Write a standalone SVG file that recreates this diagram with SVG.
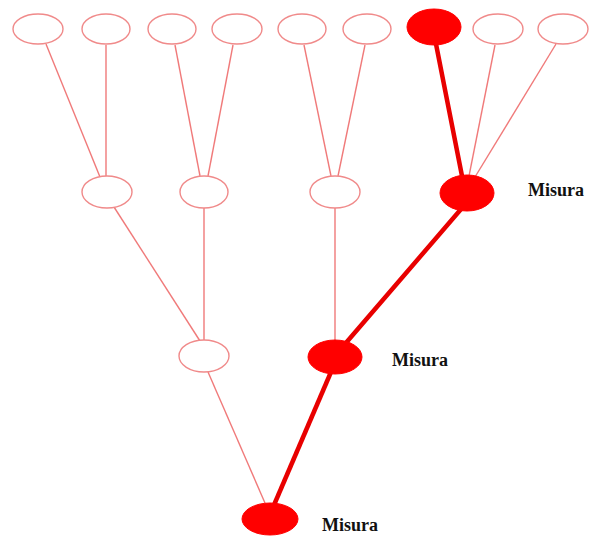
<svg xmlns="http://www.w3.org/2000/svg" width="592" height="538" viewBox="0 0 592 538">
<style>
.e{fill:#ffffff;stroke:#f08a8a;stroke-width:1.4}
.f{fill:#ff0000;stroke:#ff0000;stroke-width:1}
.t{stroke:#f07a7a;stroke-width:1.4;fill:none}
.k{stroke:#e80000;stroke-width:4.5;fill:none;stroke-linecap:round}
.l{font-family:"Liberation Serif","Times New Roman",serif;font-weight:bold;font-size:18px;fill:#111111}
</style>
<rect width="592" height="538" fill="#ffffff"/>
<g id="connectors">
<line class="t" x1="46" y1="44" x2="100" y2="177"/>
<line class="t" x1="106" y1="45" x2="106" y2="176"/>
<line class="t" x1="175" y1="45" x2="200" y2="176"/>
<line class="t" x1="233" y1="45" x2="208" y2="176"/>
<line class="t" x1="304" y1="45" x2="331" y2="176"/>
<line class="t" x1="365" y1="45" x2="338" y2="176"/>
<line class="k" x1="436" y1="44" x2="462" y2="176"/>
<line class="t" x1="495" y1="45" x2="469" y2="176"/>
<line class="t" x1="556" y1="44" x2="475" y2="177"/>
<line class="t" x1="114" y1="207" x2="200" y2="341"/>
<line class="t" x1="204" y1="208" x2="204" y2="340"/>
<line class="t" x1="335" y1="208" x2="335" y2="340"/>
<line class="k" x1="462" y1="208" x2="345" y2="344"/>
<line class="t" x1="208" y1="372" x2="265" y2="503"/>
<line class="k" x1="331" y1="372" x2="274" y2="505"/>
</g>
<g id="n1"><ellipse class="e" cx="38" cy="29" rx="25" ry="15"/></g>
<g id="n2"><ellipse class="e" cx="106" cy="29" rx="24" ry="15"/></g>
<g id="n3"><ellipse class="e" cx="172" cy="29" rx="24" ry="15"/></g>
<g id="n4"><ellipse class="e" cx="237" cy="29" rx="25" ry="15"/></g>
<g id="n5"><ellipse class="e" cx="302" cy="29" rx="24" ry="15"/></g>
<g id="n6"><ellipse class="e" cx="367" cy="29" rx="24" ry="15"/></g>
<g id="n7"><ellipse class="f" cx="434" cy="27" rx="27" ry="18"/></g>
<g id="n8"><ellipse class="e" cx="498" cy="29" rx="25" ry="15"/></g>
<g id="n9"><ellipse class="e" cx="563" cy="29" rx="25" ry="15"/></g>
<g id="m1"><ellipse class="e" cx="107" cy="192" rx="25" ry="16"/></g>
<g id="m2"><ellipse class="e" cx="204" cy="192" rx="24" ry="16"/></g>
<g id="m3"><ellipse class="e" cx="335" cy="192" rx="25" ry="16"/></g>
<g id="m4"><ellipse class="f" cx="467" cy="193" rx="27" ry="18"/><text class="l" x="528" y="196">Misura</text></g>
<g id="p1"><ellipse class="e" cx="204" cy="356" rx="25" ry="16"/></g>
<g id="p2"><ellipse class="f" cx="335" cy="357" rx="27" ry="17"/><text class="l" x="392" y="366">Misura</text></g>
<g id="r1"><ellipse class="f" cx="270" cy="519" rx="28" ry="16"/><text class="l" x="322" y="531">Misura</text></g>
</svg>
